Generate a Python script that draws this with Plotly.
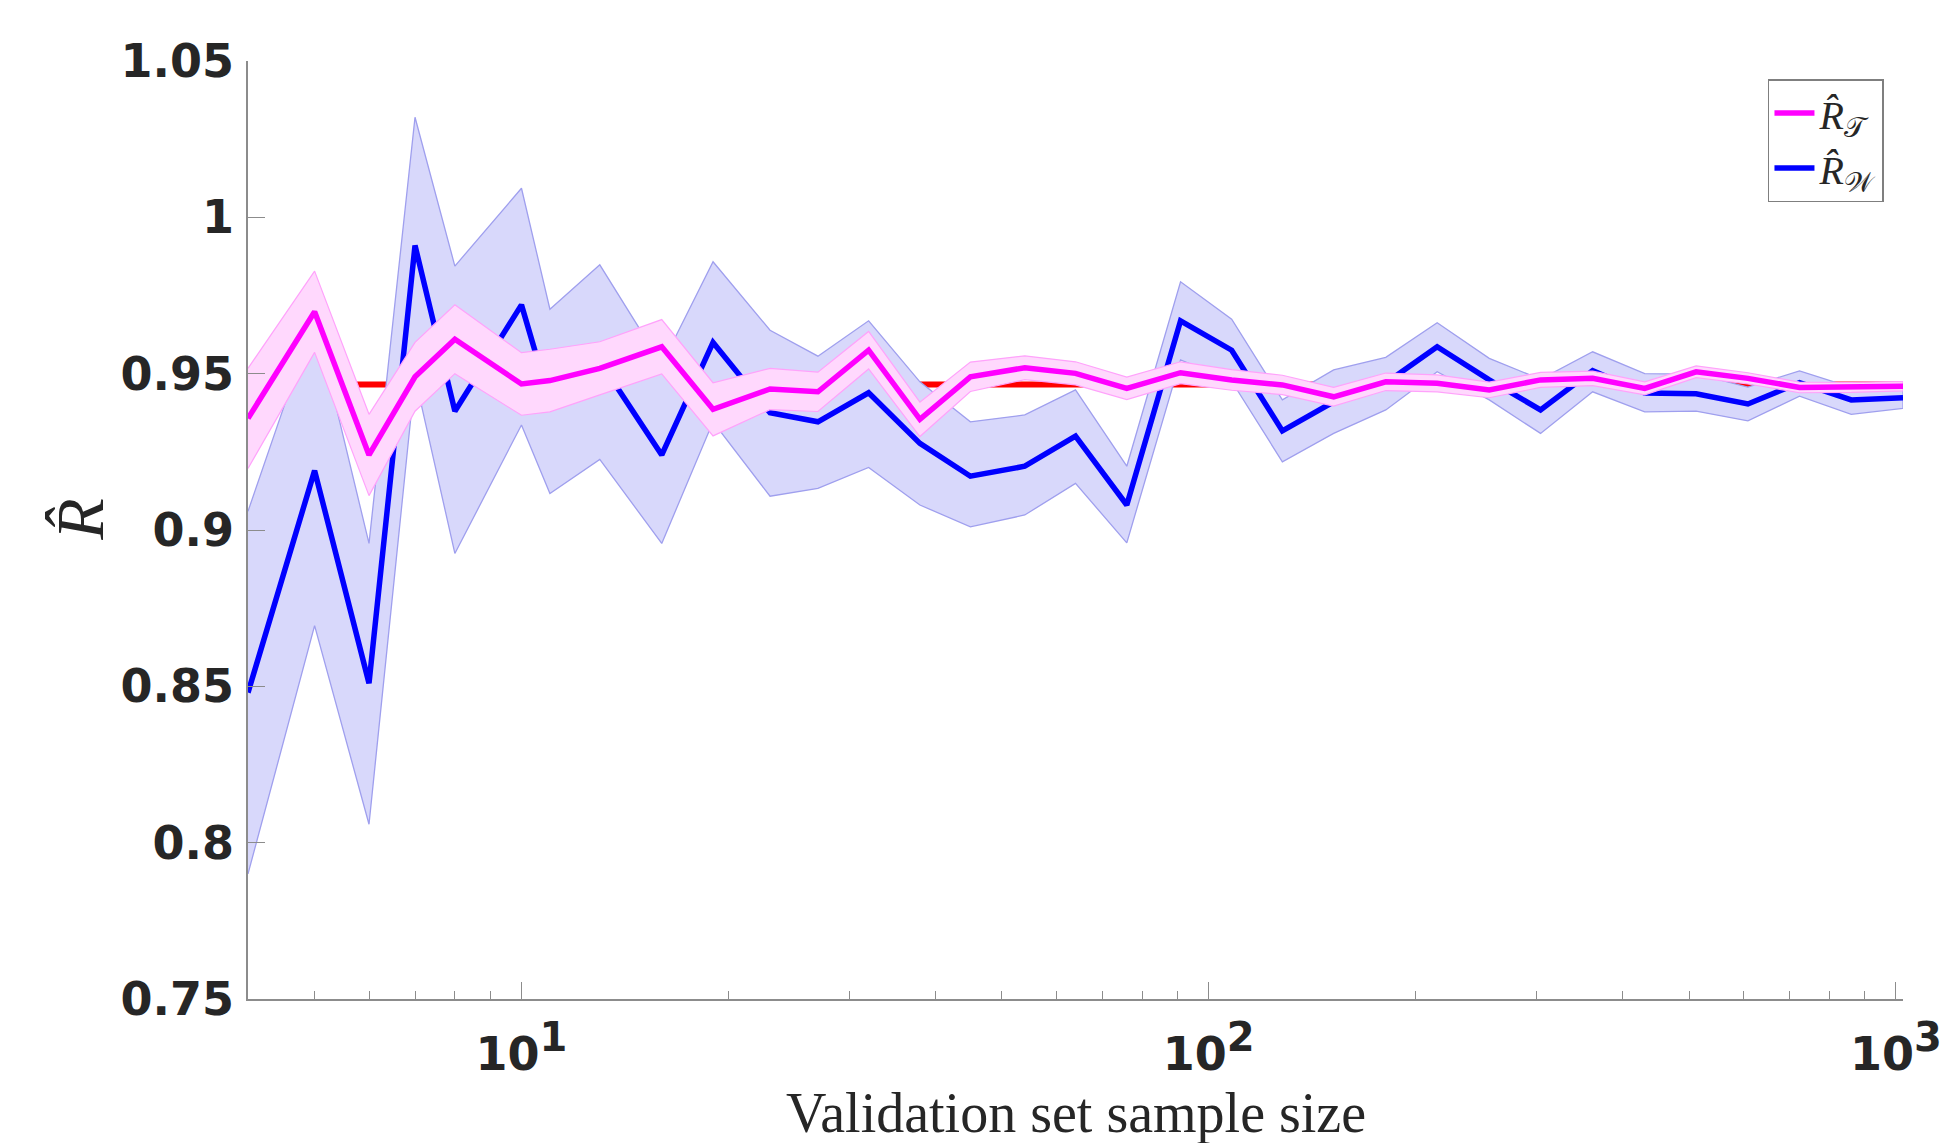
import plotly.graph_objects as go

# ---------------- data ----------------
sample_size = [4, 5, 6, 7, 8, 10, 11, 13, 16, 19, 23, 27, 32, 38, 45, 54, 64, 76, 91,
               108, 128, 152, 181, 215, 256, 304, 362, 431, 512, 609, 724, 861, 1024]

# R_W (blue): mean and band limits
r_w_mean = [0.848, 0.919, 0.851, 0.991, 0.938, 0.972, 0.941, 0.954, 0.924, 0.960,
            0.9375, 0.9346, 0.9439, 0.9277, 0.9172, 0.9204, 0.930, 0.908, 0.9669,
            0.9575, 0.9317, 0.941, 0.947, 0.9586, 0.948, 0.9384, 0.951, 0.9438,
            0.9436, 0.9403, 0.9471, 0.9416, 0.9423]
r_w_hi = [0.906, 0.968, 0.8957, 1.032, 0.9844, 1.0093, 0.9706, 0.9848, 0.953, 0.9858,
          0.9639, 0.9556, 0.9669, 0.9474, 0.9346, 0.9368, 0.9448, 0.9204, 0.9794,
          0.9674, 0.9416, 0.9512, 0.9552, 0.9663, 0.9549, 0.9482, 0.957, 0.950,
          0.9499, 0.9457, 0.9509, 0.9456, 0.9457]
r_w_lo = [0.790, 0.8694, 0.8059, 0.949, 0.8925, 0.9336, 0.9117, 0.9226, 0.8957, 0.9346,
          0.9108, 0.9133, 0.920, 0.908, 0.901, 0.9048, 0.9149, 0.8959, 0.9544,
          0.9476, 0.9218, 0.9309, 0.9384, 0.9506, 0.9416, 0.9309, 0.9442, 0.9378,
          0.938, 0.9349, 0.9428, 0.937, 0.9389]

# R_T (magenta): mean and band half-width
r_t_mean = [0.9357, 0.9698, 0.9240, 0.9490, 0.9610, 0.9467, 0.9478, 0.9517, 0.9586,
            0.9386, 0.9451, 0.9442, 0.9575, 0.9354, 0.9490, 0.9519, 0.9501, 0.9453,
            0.9503, 0.948, 0.9464, 0.9426, 0.9474, 0.9469, 0.9448, 0.9480, 0.9485,
            0.9453, 0.9506, 0.9485, 0.9456, 0.9456, 0.9460]
r_t_half = [0.016, 0.013, 0.013, 0.011, 0.011, 0.010, 0.010, 0.0085, 0.0087, 0.0085,
            0.0066, 0.0063, 0.006, 0.0055, 0.0047, 0.0038, 0.0037, 0.0036, 0.0035,
            0.0033, 0.0031, 0.003, 0.0028, 0.0027, 0.0025, 0.0024, 0.0023, 0.0021,
            0.0019, 0.0018, 0.0017, 0.0016, 0.0015]

r_true = 0.9465

y_ticks = [0.75, 0.8, 0.85, 0.9, 0.95, 1.0, 1.05]
y_tick_text = ["0.75", "0.8", "0.85", "0.9", "0.95", "1", "1.05"]
x_ticks = [10, 100, 1000]
x_tick_exp = ["1", "2", "3"]
x_minor_ticks = [5, 6, 7, 8, 9, 20, 30, 40, 50, 60, 70, 80, 90,
                 200, 300, 400, 500, 600, 700, 800, 900]

# ---------------- figure ----------------
r_t_hi = [m + h for m, h in zip(r_t_mean, r_t_half)]
r_t_lo = [m - h for m, h in zip(r_t_mean, r_t_half)]
x_tick_text = ["10<sup><span style='font-size:40px'>%s</span></sup>" % e for e in x_tick_exp]

fig = go.Figure()

fig.add_trace(go.Scatter(x=sample_size, y=[r_true] * len(sample_size), mode="lines",
                         line=dict(color="#ff0000", width=6), showlegend=False,
                         hoverinfo="skip"))

fig.add_trace(go.Scatter(x=sample_size + sample_size[::-1], y=r_w_hi + r_w_lo[::-1],
                         mode="lines", fill="toself", fillcolor="#d8d8fb",
                         line=dict(color="#9f9fee", width=1.3), showlegend=False,
                         hoverinfo="skip"))
fig.add_trace(go.Scatter(x=sample_size, y=r_w_mean, mode="lines",
                         name="<i>R̂</i><sub>𝒲</sub>", legendrank=2,
                         line=dict(color="#0000ff", width=5.5)))

fig.add_trace(go.Scatter(x=sample_size + sample_size[::-1], y=r_t_hi + r_t_lo[::-1],
                         mode="lines", fill="toself", fillcolor="#ffd8fd",
                         line=dict(color="#ffa2fb", width=1.2), showlegend=False,
                         hoverinfo="skip"))
fig.add_trace(go.Scatter(x=sample_size, y=r_t_mean, mode="lines",
                         name="<i>R̂</i><sub>𝒯</sub>", legendrank=1,
                         line=dict(color="#ff00ff", width=5.5)))

tick_font = dict(family="DejaVu Sans", size=46, color="#262626", weight="bold")

fig.update_layout(
    width=1956, height=1143,
    margin=dict(l=240, r=61, t=53, b=152),
    paper_bgcolor="white", plot_bgcolor="white",
    showlegend=True,
    legend=dict(x=0.9885, y=0.9808, xanchor="right", yanchor="top",
                bgcolor="white", bordercolor="#7f7f7f", borderwidth=1.5,
                font=dict(family="Liberation Serif", size=40, color="#262626"),
                tracegroupgap=0, itemwidth=40),
    xaxis=dict(type="log", range=[0.60206, 3.0103], tickmode="array",
               tickvals=x_ticks, ticktext=x_tick_text, ticks="inside",
               ticklen=17, tickwidth=1, tickcolor="#8c8c8c",
               showline=True, linecolor="#8c8c8c", linewidth=1.5,
               showgrid=False, zeroline=False, automargin=False,
               tickfont=tick_font, ticklabelstandoff=14,
               minor=dict(tickmode="array", tickvals=x_minor_ticks, ticks="inside",
                          ticklen=8, tickwidth=1, tickcolor="#8c8c8c", showgrid=False)),
    yaxis=dict(range=[0.75, 1.05], tickmode="array", tickvals=y_ticks,
               ticktext=y_tick_text, ticks="inside", ticklen=17, tickwidth=1,
               tickcolor="#8c8c8c", showline=True, linecolor="#8c8c8c", linewidth=1.5,
               showgrid=False, zeroline=False, automargin=False,
               tickfont=tick_font, ticklabelstandoff=3),
    annotations=[
        dict(text="<i>R̂</i>", xref="paper", yref="paper",
             x=-0.1015, y=0.511, xanchor="center", yanchor="middle",
             textangle=-90, showarrow=False,
             font=dict(family="Liberation Serif", size=68, color="#262626")),
        dict(text="Validation set sample size", xref="paper", yref="paper",
             x=0.5, y=-0.1215, xanchor="center", yanchor="middle",
             showarrow=False,
             font=dict(family="Liberation Serif", size=56, color="#262626")),
    ],
)

fig.write_html("out.html")
